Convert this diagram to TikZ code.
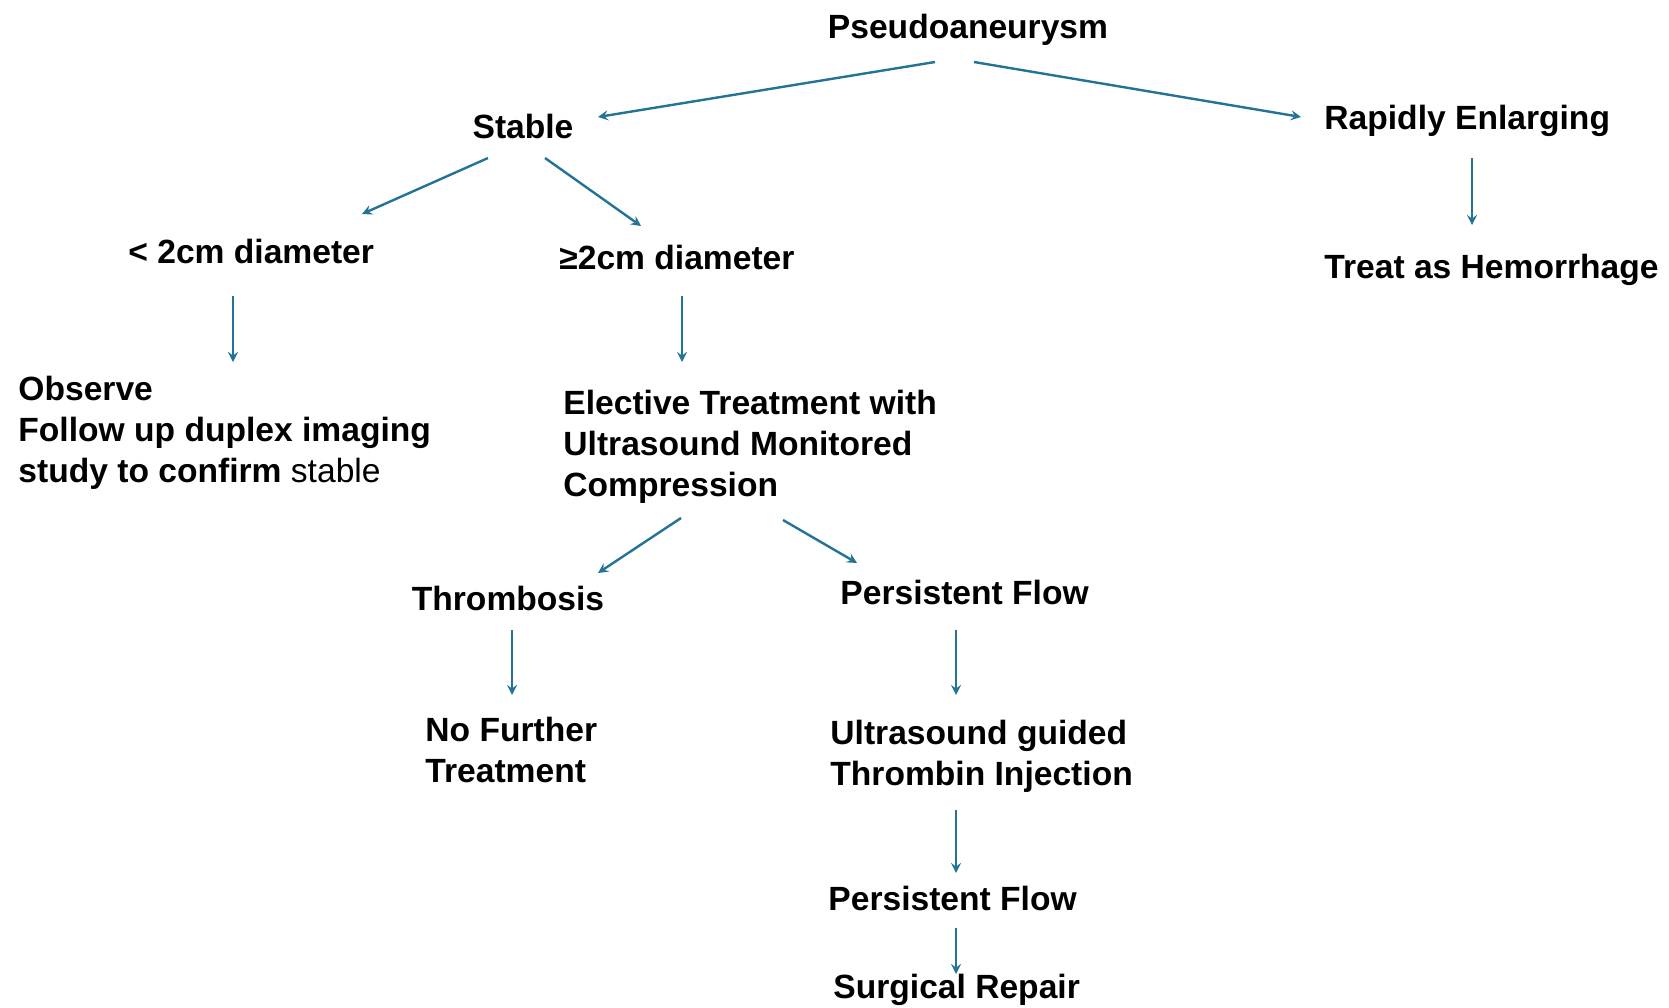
\documentclass[tikz,border=0pt]{standalone}
\usepackage{fontspec}
\setmainfont{Liberation Sans}
\usetikzlibrary{positioning}
\definecolor{flowblue}{RGB}{35,115,150}

\begin{document}
\begin{tikzpicture}[
x=0.5pt, y=-0.5pt,
txt/.style={inner sep=0pt, font=\fontsize{16.8pt}{20.5pt}\selectfont\bfseries},
block/.style={txt, align=left, anchor=north west},
link/.style={-stealth, draw=flowblue, line width=1.2pt}]

\useasboundingbox (0,0) rectangle (1669,1007);

\node[txt, anchor=base] (pseudo) at (968,38) {Pseudoaneurysm};
\node[txt, anchor=base] (stable) at (523,138) {Stable};
\node[txt, anchor=base west] (rapid) at (1324,129) {Rapidly Enlarging};
\node[txt, anchor=base west] (small) at (128,263) {< 2cm diameter};
\node[txt, anchor=base west] (large) at (559,269) {≥2cm diameter};
\node[txt, anchor=base west] (hemo) at (1324,278) {Treat as Hemorrhage};
\node[block] (observe) at (18,376) {Observe\\Follow up duplex imaging\\study to confirm {\mdseries stable}};
\node[block] (elective) at (563,390) {Elective Treatment with\\Ultrasound Monitored\\Compression};
\node[txt, anchor=base] (thromb) at (508,610) {Thrombosis};
\node[txt, anchor=base west] (persist) at (840,604) {Persistent Flow};
\node[block] (nofurther) at (425,717) {No Further\\Treatment};
\node[block] (usguided) at (830,720) {Ultrasound guided\\Thrombin Injection};
\node[txt, anchor=base west] (persist2) at (828,910) {Persistent Flow};
\node[txt, anchor=base west] (surgical) at (833,998) {Surgical Repair};

\draw[link] ([shift={(-33,24)}]pseudo.base) -- ([shift={(75,-21)}]stable.base);
\draw[link] ([shift={(6,24)}]pseudo.base) -- ([shift={(-23,-12)}]rapid.base west);
\draw[link] ([shift={(-35,20)}]stable.base) -- ([shift={(234,-49)}]small.base west);
\draw[link] ([shift={(22,20)}]stable.base) -- ([shift={(82,-43)}]large.base west);
\draw[link] ([shift={(105,33)}]small.base west) -- ([shift={(215,-14)}]observe.north west);
\draw[link] ([shift={(123,27)}]large.base west) -- ([shift={(119,-28)}]elective.north west);
\draw[link] ([shift={(148,29)}]rapid.base west) -- ([shift={(148,-53)}]hemo.base west);
\draw[link] ([shift={(118,128)}]elective.north west) -- ([shift={(90,-37)}]thromb.base);
\draw[link] ([shift={(220,130)}]elective.north west) -- ([shift={(17,-41)}]persist.base west);
\draw[link] ([shift={(4,20)}]thromb.base) -- ([shift={(87,-22)}]nofurther.north west);
\draw[link] ([shift={(116,26)}]persist.base west) -- ([shift={(126,-25)}]usguided.north west);
\draw[link] ([shift={(126,90)}]usguided.north west) -- ([shift={(128,-37)}]persist2.base west);
\draw[link] ([shift={(128,18)}]persist2.base west) -- ([shift={(123,-24)}]surgical.base west);
\end{tikzpicture}
\end{document}
